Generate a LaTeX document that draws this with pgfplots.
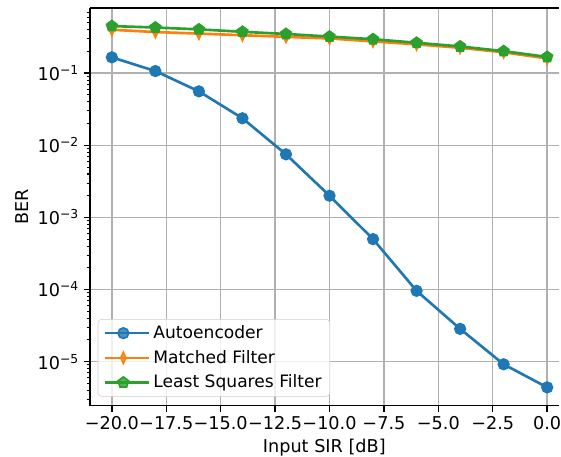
\documentclass[border=0pt]{standalone}
\usepackage{fontspec}
\setmainfont{DejaVu Sans}
\usepackage{pgfplots}
\pgfplotsset{compat=1.18}
\definecolor{mblue}{HTML}{1F77B4}
\definecolor{morange}{HTML}{FF7F0E}
\definecolor{mgreen}{HTML}{2CA02C}
\definecolor{mgrid}{HTML}{B0B0B0}
\begin{document}
\begin{tikzpicture}
\begin{axis}[
  name=ax,
  scale only axis,
  width=337pt, height=286pt,
  ymode=log,
  xmin=-21, xmax=0.52,
  ymin=2.46e-6, ymax=0.80,
  axis y line*=left,
  axis line style={line width=1pt, black},
  tick align=outside,
  xtick pos=bottom, ytick pos=left,
  major tick length=4.4pt, minor tick length=2.5pt,
  every tick/.style={black, line width=1pt},
  minor tick style={line width=0.75pt},
  xtick={-20,-17.5,-15,-12.5,-10,-7.5,-5,-2.5,0},
  xticklabels={−20.0,−17.5,−15.0,−12.5,−10.0,−7.5,−5.0,−2.5,0.0},
  ytick={1e-5,1e-4,1e-3,1e-2,1e-1},
  yticklabels={10\textsuperscript{−5},10\textsuperscript{−4},10\textsuperscript{−3},10\textsuperscript{−2},10\textsuperscript{−1}},
  minor ytick={3e-6,4e-6,5e-6,6e-6,7e-6,8e-6,9e-6,
    2e-5,3e-5,4e-5,5e-5,6e-5,7e-5,8e-5,9e-5,
    2e-4,3e-4,4e-4,5e-4,6e-4,7e-4,8e-4,9e-4,
    2e-3,3e-3,4e-3,5e-3,6e-3,7e-3,8e-3,9e-3,
    2e-2,3e-2,4e-2,5e-2,6e-2,7e-2,8e-2,9e-2,
    2e-1,3e-1,4e-1,5e-1,6e-1,7e-1},
  /pgf/number format/assume math mode=true,
  ticklabel style={font=\fontsize{12.7}{15}\selectfont},
  label style={font=\fontsize{12.7}{15}\selectfont},
  xlabel={Input SIR [dB]},
  ylabel={BER},
  grid=major,
  major grid style={mgrid, line width=1pt},
  minor grid style={draw=none},
  legend cell align=left,
  legend image code/.code={\draw[mark repeat=2,mark phase=2] plot coordinates {(0pt,0pt) (13.3pt,0pt) (26.6pt,0pt)}; \path (0pt,0pt) -- (32pt,0pt);},
  legend style={at={(0,0)}, anchor=south west, xshift=5.5pt, yshift=6.5pt,
    draw={rgb,255:red,204;green,204;blue,204}, fill=white, fill opacity=0.8, text opacity=1,
    rounded corners=2.5pt, font=\fontsize{12.3}{15}\selectfont,
    row sep=2.9pt, inner xsep=4pt, inner ysep=2.5pt},
]
\addplot[mblue, line width=1.9pt, mark=*, mark size=3.8pt, mark options={line width=1.2pt}] coordinates {
(-20,0.166) (-18,0.107) (-16,0.056) (-14,0.0237) (-12,0.0075) (-10,0.0020)
(-8,5.0e-4) (-6,9.6e-5) (-4,2.85e-5) (-2,9.2e-6) (0,4.4e-6)};
\addlegendentry{Autoencoder}
\addplot[morange, line width=1.9pt, mark=diamond*, mark size=4pt, mark options={xscale=0.6, line width=1.2pt}] coordinates {
(-20,0.400) (-18,0.372) (-16,0.354) (-14,0.336) (-12,0.319) (-10,0.303)
(-8,0.276) (-6,0.251) (-4,0.225) (-2,0.195) (0,0.160)};
\addlegendentry{Matched Filter}
\addplot[mgreen, line width=1.9pt, mark=pentagon*, mark size=4pt, mark options={line width=1.2pt}] coordinates {
(-20,0.450) (-18,0.430) (-16,0.405) (-14,0.375) (-12,0.350) (-10,0.322)
(-8,0.296) (-6,0.264) (-4,0.235) (-2,0.202) (0,0.168)};
\addlegendentry{Least Squares Filter}
\end{axis}
\pgfresetboundingbox
\path[use as bounding box] ([xshift=-64.8pt,yshift=-36.7pt]ax.south west) rectangle ([xshift=1.8pt,yshift=5.8pt]ax.north east);
\end{tikzpicture}
\end{document}
